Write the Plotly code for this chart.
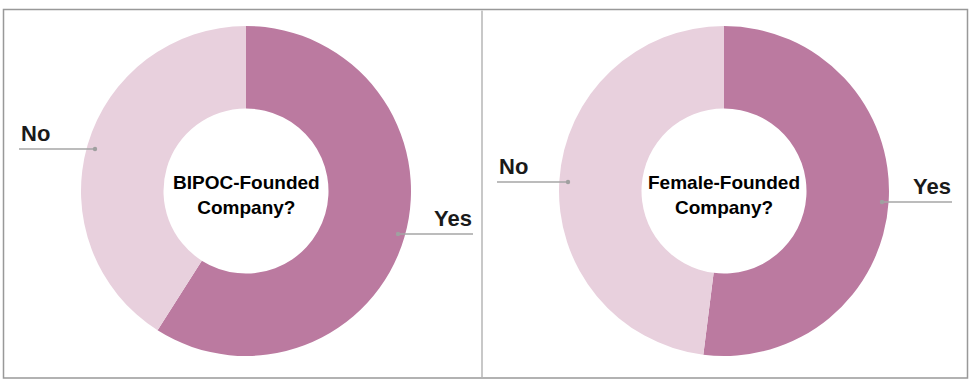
import plotly.graph_objects as go

W, H = 973, 382

labels = ["Yes", "No"]
bipoc_values = [59, 41]
female_values = [52, 48]
titles = ["BIPOC-Founded<br>Company?", "Female-Founded<br>Company?"]
colors = ["#BB7AA0", "#E8D0DD"]

def px(x):
    return x / W

def py(y):
    return 1 - y / H

fig = go.Figure()

centers = [(246, 191), (724, 191)]
R = 165
for (cx, cy), vals, title in zip(centers, [bipoc_values, female_values], titles):
    fig.add_trace(go.Pie(
        labels=labels, values=vals, hole=0.5, sort=False,
        direction="clockwise", rotation=0,
        marker=dict(colors=colors, line=dict(width=0)),
        textinfo="none", hoverinfo="skip", showlegend=False,
        domain=dict(x=[px(cx - R), px(cx + R)], y=[py(cy + R), py(cy - R)]),
    ))
    fig.add_annotation(x=px(cx), y=py(cy + 4), xref="paper", yref="paper",
                       text="<b>" + title + "</b>", showarrow=False,
                       font=dict(family="Liberation Sans, Arial", size=19, color="#000000"),
                       align="center", xanchor="center", yanchor="middle")

# leader lines: (x0, x1, y, dot at x, text, text x, anchor)
leaders = [
    (19, 95, 149, 95, "No", 19, "left"),
    (398, 473, 234, 398, "Yes", 474, "right"),
    (497, 568, 182, 568, "No", 497, "left"),
    (882, 952, 202, 882, "Yes", 953, "right"),
]
shapes = []
for x0, x1, y, dx, txt, tx, anc in leaders:
    shapes.append(dict(type="line", xref="paper", yref="paper",
                       x0=px(x0), x1=px(x1), y0=py(y), y1=py(y),
                       line=dict(color="#A6A6A6", width=1.5)))
    shapes.append(dict(type="circle", xref="paper", yref="paper",
                       x0=px(dx - 2.2), x1=px(dx + 2.2), y0=py(y + 2.2), y1=py(y - 2.2),
                       fillcolor="#A0A0A0", line=dict(width=0)))
    fig.add_annotation(x=px(tx), y=py(y - 1), xref="paper", yref="paper",
                       text="<b>" + txt + "</b>", showarrow=False,
                       font=dict(family="Liberation Sans, Arial", size=22, color="#1a1a1a"),
                       xanchor=anc, yanchor="bottom")

# borders
shapes.append(dict(type="rect", xref="paper", yref="paper",
                   x0=px(3.5), x1=px(967.5), y0=py(378), y1=py(9.5),
                   line=dict(color="#999999", width=1.5)))
shapes.append(dict(type="line", xref="paper", yref="paper",
                   x0=px(482), x1=px(482), y0=py(377), y1=py(10.5),
                   line=dict(color="#C8C8C8", width=2)))

fig.update_layout(width=W, height=H, margin=dict(l=0, r=0, t=0, b=0),
                  paper_bgcolor="white", plot_bgcolor="white", shapes=shapes)

fig.write_html("out.html", config={"displayModeBar": False},
               post_script="document.body.style.margin='0';document.body.style.overflow='hidden';")
